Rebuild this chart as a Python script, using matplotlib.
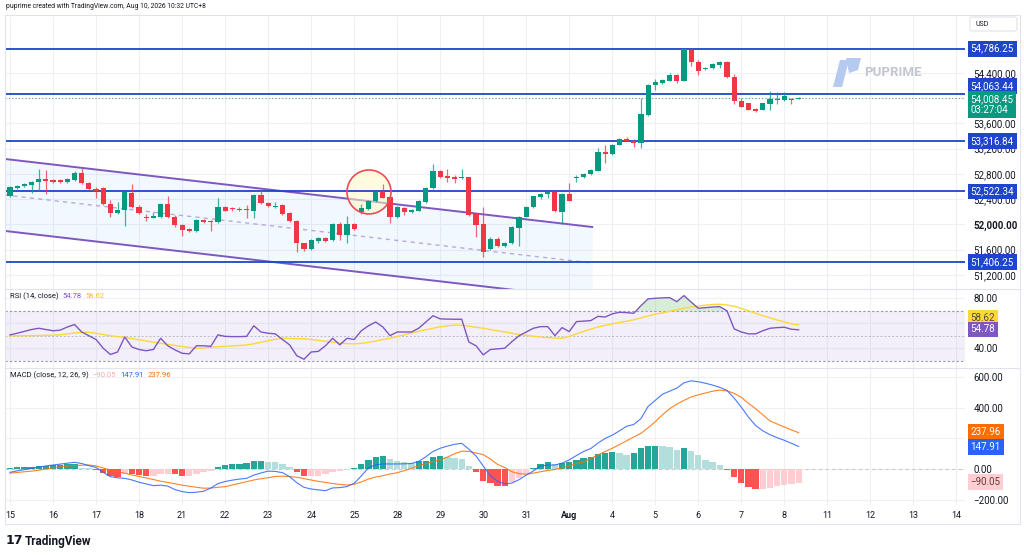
import matplotlib
matplotlib.use("Agg")
import matplotlib.pyplot as plt
from matplotlib.patches import Ellipse, Polygon, FancyBboxPatch
from matplotlib.lines import Line2D
import numpy as np

plt.rcParams['font.family'] = ['Roboto', 'DejaVu Sans']

# === DATA (4h candles, 15 Jul .. 8 Aug) ===
day_labels = ["15", "16", "17", "18", "21", "22", "23", "24", "25", "28", "29", "30",
              "31", "Aug", "4", "5", "6", "7", "8", "11", "12", "13", "14"]

opens = [52455, 52572, 52609, 52630, 52668, 52725, 52704, 52699, 52668, 52709,
         52815, 52656, 52566, 52577, 52319, 52186, 52229, 52503, 52281, 52122,
         52107, 52122, 52324, 52122, 51991, 51927, 51896, 52070, 52049, 52034,
         52281, 52255, 52244, 52240, 52213, 52461, 52339, 52276, 52303, 52176,
         52054, 51701, 51610, 51737, 51785, 51753, 52007, 51832, 52007, 52192,
         52240, 52371, 52514, 52430, 52122, 52265, 52192, 52217, 52350, 52572,
         52847, 52767, 52752, 52736, 52747, 52160, 52002, 51615, 51769, 51658,
         51701, 51948, 52122, 52271, 52439, 52477, 52514, 52202, 52482, 52741,
         52752, 52794, 52851, 53153, 53111, 53264, 53354, 53327, 53295, 53734,
         54210, 54241, 54278, 54364, 54278, 54765, 54579, 54459, 54474, 54527,
         54570, 54341, 53956, 53920, 53829, 53814, 53909, 53972, 53972, 53993,
         53995]
highs = [52609, 52625, 52649, 52688, 52878, 52862, 52720, 52720, 52736, 52851,
         52894, 52672, 52598, 52593, 52387, 52360, 52530, 52641, 52300, 52165,
         52202, 52339, 52450, 52149, 52007, 51943, 52078, 52086, 52070, 52414,
         52292, 52276, 52268, 52308, 52482, 52561, 52355, 52350, 52316, 52189,
         52070, 51713, 51761, 51800, 51800, 52022, 52043, 52138, 52022, 52324,
         52387, 52530, 52636, 52450, 52284, 52276, 52244, 52387, 52585, 52953,
         52862, 52874, 52783, 52878, 52752, 52173, 52281, 51805, 51793, 51721,
         51967, 52133, 52292, 52458, 52498, 52538, 52522, 52490, 52652, 52783,
         52815, 52878, 53206, 53259, 53275, 53362, 53378, 53346, 53999, 54226,
         54300, 54297, 54392, 54376, 54788, 54788, 54606, 54495, 54551, 54582,
         54582, 54384, 53999, 53932, 53845, 53932, 54115, 54099, 54099, 54004,
         54015]
lows = [52435, 52561, 52593, 52498, 52534, 52482, 52656, 52656, 52656, 52688,
        52641, 52546, 52414, 52308, 52118, 52165, 51975, 52260, 52165, 52054,
        52094, 52102, 52102, 51959, 51816, 51880, 51880, 52022, 51900, 52022,
        52205, 52213, 52205, 52097, 52102, 52324, 52276, 52260, 52149, 52038,
        51568, 51579, 51602, 51705, 51721, 51737, 51753, 51710, 51912, 52165,
        52229, 52355, 52411, 52027, 52102, 52149, 52181, 52205, 52339, 52561,
        52736, 52677, 52652, 52720, 52133, 51805, 51488, 51602, 51642, 51642,
        51690, 51658, 52110, 52260, 52403, 52419, 52197, 52007, 52363, 52668,
        52736, 52783, 52847, 52969, 53100, 53251, 53314, 53222, 53206, 53718,
        54131, 54226, 54265, 54246, 54265, 54511, 54368, 54448, 54463, 54474,
        54321, 53909, 53853, 53806, 53782, 53806, 53814, 53909, 53956, 53909,
        53988]
closes = [52588, 52609, 52636, 52672, 52725, 52693, 52677, 52668, 52720, 52815,
          52652, 52561, 52534, 52319, 52186, 52229, 52519, 52271, 52176, 52107,
          52129, 52324, 52122, 51991, 51916, 51900, 52065, 52034, 52038, 52281,
          52217, 52240, 52233, 52229, 52466, 52335, 52292, 52297, 52160, 52054,
          51710, 51610, 51748, 51785, 51742, 52007, 51832, 52007, 51923, 52255,
          52371, 52519, 52424, 52122, 52271, 52192, 52229, 52366, 52572, 52847,
          52747, 52741, 52725, 52752, 52149, 51986, 51568, 51764, 51658, 51705,
          51954, 52122, 52281, 52446, 52482, 52514, 52213, 52482, 52376, 52756,
          52799, 52862, 53153, 53111, 53264, 53349, 53327, 53295, 53750, 54210,
          54257, 54284, 54364, 54278, 54780, 54579, 54436, 54479, 54538, 54570,
          54332, 53951, 53866, 53814, 53798, 53920, 53983, 53983, 54040, 53972,
          54008.45]

levels = [54786.25, 54063.44, 53316.84, 52522.34, 51406.25]
last_price = 54008.45
countdown = "03:27:04"

# descending channel (bar index, price)
channel_x = [-0.7, 81.2]
channel_upper = [53037, 51959]
channel_mid = [52466, 51388]
channel_lower = [51896, 50818]

rsi = [50.7, 52, 53.5, 55, 56, 55, 54, 54.5, 57, 59,
       53, 50, 47, 40, 35, 37, 49, 41, 39, 38,
       39, 48, 42, 38.7, 36, 35.5, 42, 42, 41.5, 50.7,
       49.5, 49.3, 49.3, 49.5, 58, 53, 52, 51.5, 47, 42.7,
       34, 31.2, 37, 37.5, 42, 48, 42.7, 48, 47, 54,
       58, 61, 57, 50.1, 53, 53, 53, 56, 61, 66,
       63.5, 63.3, 63.2, 63.2, 45, 42, 34.7, 39, 39.5, 40,
       45.3, 50, 53, 56, 57.3, 57.3, 50.1, 56.5, 53.3, 61.3,
       61.7, 62.1, 65.5, 65, 67.5, 68.8, 68.5, 68, 74, 79.5,
       80, 80.3, 80.5, 77.3, 82.1, 77, 72, 72.5, 73, 73.3,
       70, 55.5, 53, 51.5, 51.5, 54, 56, 56.5, 56.8, 55.2,
       54.78]
rsi_ma = [49.9, 50, 50, 50.1, 50.2, 50.3, 50.5, 50.7, 51.5, 52.2,
          52.7, 52.8, 52, 51, 50, 49.3, 48.8, 47.8, 46.8, 45.8,
          44.9, 44, 43, 42.2, 41.4, 40.6, 40, 40.3, 40.8, 41.2,
          41.5, 41.8, 42.2, 42.6, 43.6, 44.8, 46, 47.2, 48, 47.8,
          47.6, 47.5, 47, 46.3, 45.6, 44.9, 44.2, 43.7, 43.5, 43.9,
          44.7, 45.8, 47, 48, 49.3, 50.8, 52.2, 53.6, 54.8, 56,
          57.2, 58, 58.6, 58.4, 57.6, 56.8, 56, 55, 54, 53,
          52, 51, 50.3, 49.6, 49, 48.5, 48.2, 48, 49.5, 51.5,
          53.5, 55.3, 57, 58.3, 59.5, 60.6, 61.6, 62.8, 64.3, 65.8,
          67.3, 68.3, 69.5, 70.8, 72, 73, 73.8, 74.5, 75, 75.2,
          74.6, 73.6, 71.8, 70, 68, 66, 64.3, 62.6, 61, 59.6,
          58.62]

macd = [-22, -12, -4, 4, 12, 20, 26, 32, 38, 44,
        36, 22, 10, -22, -50, -58, -61, -72, -87, -98,
        -109, -106, -112, -135, -148, -155, -152, -146, -125, -96,
        -82, -73, -66, -61, -40, -26, -14, -16, -24, -50,
        -90, -120, -131, -137, -142, -124, -122, -115, -94, -45,
        8, 28, 33, 33, 33, 34, 36, 50, 80, 115,
        136, 150, 162, 168, 130, 85, 20, -45, -80, -98,
        -92, -70, -40, -13, 20, 26, 26, 38, 60, 88,
        115, 134, 170, 200, 222, 250, 280, 292, 330, 410,
        450, 490, 510, 530, 565, 578, 572, 562, 550, 535,
        515, 465, 405, 340, 285, 250, 225, 205, 188, 168,
        147.91]
signal = [-27, -23, -18, -14, -8, 0, 8, 15, 19, 22,
          25, 26, 20, 6, -7, -17, -28, -39, -49, -59,
          -69, -80, -88, -97, -106, -113, -120, -126, -125, -120,
          -116, -105, -94, -83, -72, -64, -57, -49, -47, -50,
          -54, -63, -72, -81, -88, -95, -101, -105, -100, -85,
          -66, -53, -44, -33, -24, -11, 4, 22, 35, 48,
          60, 78, 100, 117, 115, 105, 94, 65, 30, 10,
          -18, -30, -35, -27, -18, -10, -3, 7, 20, 36,
          46, 68, 92, 114, 136, 160, 185, 210, 234, 270,
          310, 355, 395, 425, 450, 472, 486, 498, 510, 517,
          512, 496, 470, 430, 395, 355, 315, 295, 275, 256,
          237.96]
hist = [7, 10, 13, 15, 22, 22, 28, 28, 30, 30,
        8, 4, -5, -28, -46, -50, -33, -35, -39, -46,
        -46, -33, -33, -35, -44, -44, -31, -22, -13, 13,
        26, 33, 35, 39, 52, 52, 48, 44, 31, 13,
        -22, -46, -46, -46, -35, -22, -13, -9, 9, 31,
        57, 79, 85, 63, 52, 44, 42, 52, 55, 79,
        85, 81, 70, 63, 20, -22, -77, -94, -109, -110,
        -87, -61, -35, 9, 33, 46, 31, 42, 48, 59,
        74, 81, 98, 107, 109, 103, 92, 103, 136, 149,
        151, 150, 145, 127, 136, 118, 90, 59, 44, 26,
        -9, -55, -90, -116, -131, -129, -122, -112, -104, -97,
        -90.05]

# === COLOURS ===
GREEN = "#089981"
RED = "#F23645"
LEVEL_BLUE = "#1E45CC"
GRID = "#eef0f4"
TXT = "#131722"

# === FIGURE & PANES ===
W, H = 1024, 558
fig = plt.figure(figsize=(W / 100, H / 100), dpi=100)


def box(x0, y0, x1, y1):
    # pixel box with top-left origin -> figure fraction rect
    return [x0 / W, 1 - y1 / H, (x1 - x0) / W, (y1 - y0) / H]


def fxy(x, y):
    return x / W, 1 - y / H


ax_price = fig.add_axes(box(5, 15, 965, 289))
ax_rsi = fig.add_axes(box(5, 289, 965, 368), sharex=ax_price)
ax_macd = fig.add_axes(box(5, 368, 965, 505), sharex=ax_price)

x = np.arange(len(closes))
tick_pos = [6 * k for k in range(len(day_labels))]

for ax in (ax_price, ax_rsi, ax_macd):
    for s in ax.spines.values():
        s.set_visible(False)
    ax.set_facecolor("white")
    ax.yaxis.tick_right()
    ax.tick_params(axis="y", length=0, pad=6, labelsize=7, labelcolor=TXT)
    ax.tick_params(axis="x", length=0)
    ax.grid(True, color=GRID, lw=0.8, zorder=0)
    ax.set_axisbelow(True)

ax_price.set_xlim(-0.7, 133.2)
ax_macd.set_xticks(tick_pos)
ax_macd.set_xticklabels(day_labels)
ax_macd.tick_params(axis="x", labelsize=6.5, pad=4, labelcolor=TXT)
for lbl in ax_macd.get_xticklabels():
    if lbl.get_text() == "Aug":
        lbl.set_fontweight("bold")
ax_price.tick_params(axis="x", labelbottom=False)
ax_rsi.tick_params(axis="x", labelbottom=False)

# === PRICE PANE ===
ax_price.set_ylim(50976, 55319)
price_ticks = np.arange(51200, 54801, 400)
ax_price.set_yticks(price_ticks)
# 54,800 and 54,000 sit fully under the level / last-price tags
ax_price.set_yticklabels(["" if v in (54800, 54000) else f"{v:,.2f}" for v in price_ticks])
for lbl, v in zip(ax_price.get_yticklabels(), price_ticks):
    if v == 52000:
        lbl.set_fontweight("bold")

# channel
ax_price.fill_between(channel_x, channel_upper, channel_lower, color="#2196F3", alpha=0.06, lw=0, zorder=1)
ax_price.plot(channel_x, channel_upper, color="#7E57C2", lw=1.4, zorder=2)
ax_price.plot(channel_x, channel_lower, color="#7E57C2", lw=1.4, zorder=2)
ax_price.plot(channel_x, channel_mid, color="#9575CD", lw=1.0, alpha=0.6, ls=(0, (3, 3)), zorder=2)

# highlight circle
ax_price.add_patch(Ellipse((50.07, 52514), 6.14, 697, fc="#fff8c4", alpha=0.55, ec="none", zorder=2))
ax_price.add_patch(Ellipse((50.07, 52514), 6.14, 697, fc="none", ec="#EF4B55", lw=1.2, zorder=6))

# horizontal levels and last price
for lv in levels:
    ax_price.axhline(lv, color=LEVEL_BLUE, lw=1.3, zorder=2.5)
ax_price.axhline(last_price, color="#5aa99a", lw=0.8, ls=(0, (1, 2)), zorder=2.5)

# candles
o = np.array(opens, float)
h = np.array(highs, float)
l = np.array(lows, float)
c = np.array(closes, float)
col = np.where(c >= o, GREEN, RED)
ax_price.vlines(x, l, h, colors=col, lw=0.9, alpha=0.75, zorder=3)
body = np.maximum(np.abs(c - o), 14)
ax_price.bar(x, body, bottom=np.minimum(o, c), width=0.72, color=col, lw=0, zorder=4)


def tag(ax, y, text, fc, tc="white", va="center"):
    ax.text(1.0058, y, text, transform=ax.get_yaxis_transform(), ha="left", va=va,
            fontsize=7, color=tc, zorder=10, clip_on=False,
            bbox=dict(boxstyle="square,pad=0.3", fc=fc, ec="none"))


tag(ax_price, 54786.25, "54,786.25", LEVEL_BLUE)
tag(ax_price, 54197, "54,063.44", LEVEL_BLUE)
tag(ax_price, 54070, f"{last_price:,.2f}\n{countdown}", GREEN, va="top")
tag(ax_price, 53316.84, "53,316.84", LEVEL_BLUE)
tag(ax_price, 52522.34, "52,522.34", LEVEL_BLUE)
tag(ax_price, 51406.25, "51,406.25", LEVEL_BLUE)

# === RSI PANE ===
ax_rsi.set_ylim(24.2, 87.4)
ax_rsi.set_yticks([40, 60, 80])
ax_rsi.set_yticklabels(["40.00", "", "80.00"])
ax_rsi.axhspan(30, 70, color="#7E57C2", alpha=0.09, lw=0, zorder=1)
ax_rsi.axhline(70, color="#9598a1", lw=0.8, ls=(0, (2, 2)), zorder=2)
ax_rsi.axhline(30, color="#9598a1", lw=0.8, ls=(0, (2, 2)), zorder=2)
ax_rsi.axhline(50, color="#9598a1", lw=0.7, alpha=0.6, ls=(0, (2, 2)), zorder=2)
rsi_a = np.array(rsi)
ax_rsi.fill_between(x, rsi_a, 70, where=rsi_a > 70, interpolate=True, color="#4CAF50", alpha=0.22, lw=0, zorder=2)
ax_rsi.plot(x, rsi_ma, color="#FDD835", lw=1.0, zorder=3)
ax_rsi.plot(x, rsi, color="#7E57C2", lw=1.0, zorder=4)
tag(ax_rsi, 64.5, f"{rsi_ma[-1]:.2f}", "#FDD835", tc="#4a4a4a")
tag(ax_rsi, 55.0, f"{rsi[-1]:.2f}", "#7E57C2")

# === MACD PANE ===
ax_macd.set_ylim(-236, 662)
macd_ticks = [-200, 0, 200, 400, 600]
ax_macd.set_yticks(macd_ticks)
ax_macd.set_yticklabels(["\u2212200.00", "0.00", "", "400.00", "600.00"])
ax_macd.axhline(0, color="#c7cad1", lw=0.8, ls=(0, (3, 3)), zorder=1)
hist_a = np.array(hist)
prev = np.concatenate([[hist_a[0]], hist_a[:-1]])
hcol = np.where(hist_a >= 0,
                np.where(hist_a >= prev, "#26A69A", "#B2DFDB"),
                np.where(hist_a < prev, "#FF5252", "#FFCDD2"))
ax_macd.bar(x, hist_a, width=0.88, color=hcol, lw=0, zorder=2)
ax_macd.plot(x, signal, color="#FF6D00", lw=0.8, alpha=0.85, zorder=3)
ax_macd.plot(x, macd, color="#2962FF", lw=0.8, alpha=0.85, zorder=4)
tag(ax_macd, 243, f"{signal[-1]:.2f}", "#FF6D00")
tag(ax_macd, 146, f"{macd[-1]:.2f}", "#2962FF")
tag(ax_macd, -85, f"\u2212{abs(hist[-1]):.2f}", "#FFCDD2", tc="#5d4037")


# === PANE HEADERS (pieces laid out one after another) ===
def header_row(x0, y0, pieces, size=5.5, gap=4):
    renderer = fig.canvas.get_renderer()
    xx = x0
    for text, color in pieces:
        t = fig.text(*fxy(xx, y0), text, fontsize=size, color=color, va="center")
        xx += t.get_window_extent(renderer).width + gap


header_row(10, 296, [("RSI (14, close)", TXT), (f"{rsi[-1]:.2f}", "#7E57C2"),
                     (f"{rsi_ma[-1]:.2f}", "#F9C80E")])
header_row(10, 375, [("MACD (close, 12, 26, 9)", TXT), (f"\u2212{abs(hist[-1]):.2f}", "#F7A8B3"),
                     (f"{macd[-1]:.2f}", "#2962FF"), (f"{signal[-1]:.2f}", "#FF6D00")])

# === TOP / BOTTOM DECORATION ===
fig.text(*fxy(6, 7), "puprime created with TradingView.com, Aug 10, 2026 10:32 UTC+8",
         fontsize=4.9, color=TXT, va="center")

usd = FancyBboxPatch(fxy(970, 31), 47 / W, 14 / H, boxstyle="round,pad=0,rounding_size=0.003",
                     transform=fig.transFigure, fc="white", ec="#e0e3eb", lw=0.8)
fig.add_artist(usd)
fig.text(*fxy(975, 24), "USD", fontsize=5, color=TXT, va="center")

# watermark
logo_stem = [fxy(833, 87), fxy(842, 87), fxy(849, 60), fxy(840, 60)]
logo_flag = [fxy(846, 58), fxy(861, 58), fxy(858, 70), fxy(849, 73)]
for pts in (logo_stem, logo_flag):
    fig.add_artist(Polygon(pts, closed=True, transform=fig.transFigure, fc="#b6c9ee", ec="none"))
fig.text(*fxy(864, 73), "PUPRIME", fontsize=9.5, fontweight="bold", color="#c4c7cd", va="center")

# frame and pane separators
for yy in (289, 368):
    fig.add_artist(Line2D([5 / W, 1020 / W], [1 - yy / H] * 2, transform=fig.transFigure, color="#e0e3eb", lw=0.8))
frame = [fxy(5, 15), fxy(1020, 15), fxy(1020, 524), fxy(5, 524)]
fig.add_artist(Polygon(frame, closed=True, transform=fig.transFigure, fc="none", ec="#e0e3eb", lw=0.8))

fig.text(*fxy(6, 541), "17", fontsize=9, fontweight="heavy", color=TXT, va="center", family="DejaVu Sans")
fig.text(*fxy(25, 541), "TradingView", fontsize=8.5, fontweight="bold", color=TXT, va="center")

fig.savefig("out.png", dpi=100, facecolor="white")
